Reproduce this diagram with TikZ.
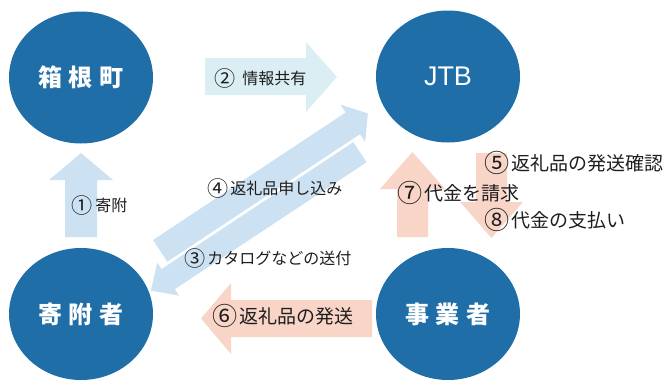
\documentclass[tikz,border=0pt]{standalone}
\usepackage{fontspec}
\usepackage{graphicx}
\setmainfont{Liberation Sans}
\newfontfamily\jp{Noto Sans CJK JP}
\usetikzlibrary{shapes.geometric}
\definecolor{circ}{RGB}{31,110,167}
\definecolor{blueA}{RGB}{204,226,243}
\definecolor{cyanA}{RGB}{218,238,244}
\definecolor{salmon}{RGB}{248,213,199}
\definecolor{ink}{RGB}{30,30,30}
\newcommand{\cnum}[1]{\raisebox{-0.12em}{\scalebox{1.32}{#1}}}
\begin{document}
\begin{tikzpicture}[x=1pt,y=-1pt,
  hub/.style={ellipse, fill=circ, minimum width=144pt, minimum height=132pt, inner sep=0pt, text=white},
  hubtext/.style={font=\jp\bfseries\fontsize{24}{24}\selectfont},
  lbl/.style={text=ink, inner sep=0pt, anchor=west},
  lblL/.style={lbl, font=\jp\fontsize{19}{19}\selectfont},
  lblM/.style={lbl, font=\jp\fontsize{16}{16}\selectfont},
  lblS/.style={lbl, font=\jp\fontsize{16}{16}\selectfont}]
\useasboundingbox (0,0) rectangle (665,380);

% (1) up arrow
\fill[blueA] (65,237) -- (65,180) -- (49,180) -- (81,153) -- (113,180) -- (97,180) -- (97,237) -- cycle;
% (2) right arrow
\fill[cyanA] (205,58) -- (306,58) -- (306,42) -- (337,77) -- (306,112) -- (306,95) -- (205,95) -- cycle;
% (4) and (3) diagonal arrows
\begin{scope}[shift={(153,240)}, x={(0.834pt,0.552pt)}, y={(0.552pt,-0.834pt)}]
  \fill[blueA] (0,0) -- (231,0) -- (231,-9.4) -- (249,13) -- (231,35.4) -- (231,26) -- (0,26) -- cycle;
  \filldraw[fill=blueA, draw=white, line width=1.6pt, line join=miter]
    (222,28) -- (222,54) -- (-8,54) -- (-8,63) -- (-31,41) -- (-8,19) -- (-8,28) -- cycle;
\end{scope}
% (6) left arrow
\fill[salmon] (372,300) -- (231,300) -- (231,283) -- (201,318.5) -- (231,354) -- (231,337) -- (372,337) -- cycle;
% (7) up arrow
\fill[salmon] (397,237) -- (397,189) -- (380,189) -- (412.5,152) -- (445,189) -- (428,189) -- (428,237) -- cycle;
% (8) down arrow
\fill[salmon] (476,153) -- (507,153) -- (507,202) -- (523,202) -- (491.5,238) -- (460,202) -- (476,202) -- cycle;

% hubs
\node[hub, hubtext] (hakone) at (81,77.5) {箱\hspace{7pt}根\hspace{7pt}町};
\node[hub, font=\fontsize{27}{27}\selectfont] (jtb) at (448,76.5) {JTB};
\node[hub, hubtext] (kifusha) at (81,314) {寄\hspace{7pt}附\hspace{7pt}者};
\node[hub, hubtext] (jigyo) at (448,314) {事\hspace{7pt}業\hspace{7pt}者};

% labels
\node[lblS] (l1) at (71,205) {\cnum{①}\hspace{3pt}寄附};
\node[lblS] (l2) at (214,78) {\cnum{②}\hspace{7pt}情報共有};
\node[lblM] (l4) at (207,188) {\cnum{④}\hspace{2pt}返礼品申し込み};
\node[lblM] (l3) at (184,258) {\cnum{③}\hspace{2pt}カタログなどの送付};
\node[lblL] (l5) at (484,163) {\cnum{⑤}\hspace{2pt}返礼品の発送確認};
\node[lblL] (l7) at (397,193) {\cnum{⑦}\hspace{2pt}代金を請求};
\node[lblL] (l8) at (484,220) {\cnum{⑧}\hspace{2pt}代金の支払い};
\node[lblL] (l6) at (212,316) {\cnum{⑥}\hspace{2pt}返礼品の発送};
\end{tikzpicture}
\end{document}
